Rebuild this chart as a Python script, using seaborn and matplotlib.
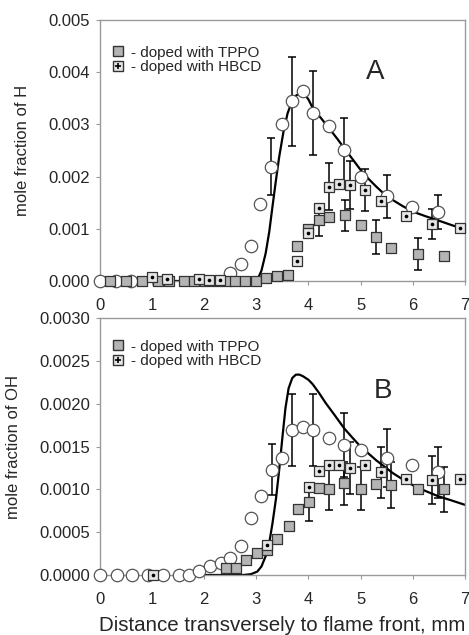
import numpy as np
import pandas as pd
import matplotlib
matplotlib.use("Agg")
import matplotlib.pyplot as plt
import seaborn as sns
from matplotlib.lines import Line2D
from matplotlib.legend_handler import HandlerTuple

# ---------------- panel A: H ----------------
h_und_x = [0.0, 0.3, 0.6, 2.49, 2.70, 2.89, 3.08, 3.29, 3.49, 3.69, 3.90, 4.09,
           4.40, 4.69, 5.00, 5.50, 5.99, 6.49]
h_und_y = [0.0, 0.0, 0.0, 0.00015, 0.00033, 0.00067, 0.00147, 0.00219, 0.00301,
           0.00344, 0.00364, 0.00322, 0.00297, 0.00250, 0.00199, 0.00162,
           0.00142, 0.00132]
h_und_err_x = [3.29, 3.69, 4.09, 4.69, 5.50, 6.49]
h_und_err_y = [0.00219, 0.00344, 0.00322, 0.00250, 0.00162, 0.00132]
h_und_err = [0.00055, 0.00086, 0.00081, 0.00062, 0.00041, 0.00033]

h_tppo_x = [0.19, 0.51, 0.80, 1.11, 1.32, 1.61, 1.80, 2.02, 2.22, 2.41, 2.60,
            2.79, 3.00, 3.19, 3.40, 3.60, 3.79, 3.99, 4.21, 4.40, 4.70, 5.00,
            5.30, 5.59, 6.10, 6.60]
h_tppo_y = [0.0, 0.0, 0.0, 0.0, 0.0, 0.0, 0.0, 0.0, 0.0, 0.0, 0.0, 0.0, 0.0,
            0.00006, 0.0001, 0.00012, 0.00067, 0.00100, 0.00116, 0.00122,
            0.00126, 0.00107, 0.00084, 0.00064, 0.00052, 0.00048]
h_tppo_err_x = [4.21, 4.70, 5.30, 6.10]
h_tppo_err_y = [0.00116, 0.00126, 0.00084, 0.00052]
h_tppo_err = [0.0003, 0.0003, 0.00032, 0.00031]

h_hbcd_x = [1.00, 1.28, 1.90, 2.10, 2.30, 3.79, 3.99, 4.21, 4.40, 4.59, 4.80,
            5.09, 5.39, 5.88, 6.38, 6.90]
h_hbcd_y = [0.00008, 0.00003, 0.00003, 0.00002, 0.00002, 0.00038, 0.00091,
            0.00139, 0.00181, 0.00186, 0.00183, 0.00174, 0.00153, 0.00125,
            0.00109, 0.00102]
h_hbcd_err_x = [4.40, 4.80, 5.09, 6.38]
h_hbcd_err_y = [0.00181, 0.00183, 0.00174, 0.00109]
h_hbcd_err = [0.00045, 0.00046, 0.0004, 0.00028]

h_model_x = [0.0, 2.95, 3.02, 3.10, 3.18, 3.25, 3.31, 3.38, 3.44, 3.52, 3.60,
             3.68, 3.76, 3.84, 3.90, 4.00, 4.09, 4.25, 4.40, 4.55, 4.69, 4.85,
             5.00, 5.15, 5.30, 5.45, 5.62, 5.80, 6.00, 6.25, 6.49, 6.75, 7.0]
h_model_y = [0.0, 0.0, 0.00002, 0.00020, 0.00053, 0.00095, 0.00142, 0.00195,
             0.00238, 0.00285, 0.00321, 0.00343, 0.00355, 0.00360, 0.00361,
             0.00348, 0.00330, 0.00311, 0.00292, 0.00273, 0.00254, 0.00233,
             0.00213, 0.00196, 0.00181, 0.00167, 0.00155, 0.00144, 0.00133,
             0.00124, 0.00116, 0.00107, 0.00099]

# ---------------- panel B: OH ----------------
oh_und_x = [0.0, 0.32, 0.62, 0.93, 1.22, 1.52, 1.71, 1.91, 2.12, 2.32, 2.50,
            2.70, 2.89, 3.10, 3.31, 3.50, 3.69, 3.90, 4.09, 4.40, 4.69, 5.00,
            5.50, 5.99, 6.49]
oh_und_y = [0.0, 0.0, 0.0, 0.0, 0.0, 0.0, 0.0, 0.00005, 0.0001, 0.00014,
            0.0002, 0.00034, 0.00066, 0.00092, 0.00123, 0.00137, 0.00169,
            0.00173, 0.00169, 0.00160, 0.00152, 0.00146, 0.00137, 0.00129,
            0.00120]
oh_und_err_x = [3.31, 3.69, 4.09, 4.69, 5.50, 6.49]
oh_und_err_y = [0.00123, 0.00169, 0.00169, 0.00152, 0.00137, 0.00120]
oh_und_err = [0.0003, 0.00042, 0.00042, 0.00037, 0.00034, 0.0003]

oh_tppo_x = [2.41, 2.61, 2.81, 3.02, 3.21, 3.40, 3.62, 3.81, 4.01, 4.21, 4.40,
             4.69, 5.00, 5.30, 5.59, 6.10, 6.60]
oh_tppo_y = [0.00008, 0.00008, 0.00017, 0.00026, 0.00029, 0.00042, 0.00057,
             0.00077, 0.00085, 0.00102, 0.00101, 0.00107, 0.00101, 0.00106,
             0.00105, 0.00101, 0.00100]
oh_tppo_err_x = [4.01, 4.40, 4.69, 5.00, 5.59, 6.60]
oh_tppo_err_y = [0.00085, 0.00101, 0.00107, 0.00101, 0.00105, 0.00100]
oh_tppo_err = [0.00022, 0.00025, 0.00025, 0.00025, 0.00027, 0.00026]

oh_hbcd_x = [1.01, 3.21, 4.01, 4.21, 4.40, 4.59, 4.80, 5.09, 5.39, 5.88, 6.38,
             6.90]
oh_hbcd_y = [0.0, 0.00035, 0.00103, 0.00122, 0.00129, 0.00129, 0.00125,
             0.00129, 0.00120, 0.00112, 0.00111, 0.00112]
oh_hbcd_err_x = [4.80, 5.39, 6.38]
oh_hbcd_err_y = [0.00125, 0.00120, 0.00111]
oh_hbcd_err = [0.0003, 0.0003, 0.00028]

oh_model_x = [2.0, 2.75, 2.90, 3.02, 3.10, 3.18, 3.25, 3.31, 3.38, 3.44, 3.50,
              3.56, 3.62, 3.69, 3.76, 3.83, 3.90, 4.00, 4.08, 4.20, 4.33, 4.50,
              4.69, 4.85, 5.00, 5.15, 5.30, 5.45, 5.62, 5.80, 6.00, 6.25, 6.49,
              6.75, 7.0]
oh_model_y = [0.0, 0.0, 0.00001, 0.00004, 0.00010, 0.00022, 0.00038, 0.0006,
              0.00090, 0.00123, 0.00160, 0.00195, 0.00218, 0.00230, 0.00234,
              0.00234, 0.00232, 0.00228, 0.00223, 0.00213, 0.00201, 0.00187,
              0.00171, 0.00160, 0.00150, 0.00142, 0.00134, 0.00127, 0.00119,
              0.00112, 0.00105, 0.00098, 0.00092, 0.00087, 0.00082]

x_ticks = [0, 1, 2, 3, 4, 5, 6, 7]
h_ticks = [0.0, 0.001, 0.002, 0.003, 0.004, 0.005]
oh_ticks = [0.0, 0.0005, 0.0010, 0.0015, 0.0020, 0.0025, 0.0030]

sns.set_style("white")
plt.rcParams['font.family'] = ['Liberation Sans', 'DejaVu Sans']

GRAY = '#b4b4b4'
SPINE = '#9a9a9a'


def draw_panel(ax, und, tppo, hbcd, model, errs, ylim, yticks, yfmt, ylabel,
               letter, letter_pos, leg_y):
    # model curve
    sns.lineplot(x=model[0], y=model[1], ax=ax, color='black', lw=1.6,
                 sort=False, estimator=None, zorder=2)
    # error bars
    for (ex, ey, ee) in errs:
        ax.errorbar(ex, ey, yerr=ee, fmt='none', ecolor='black', elinewidth=1.1,
                    capsize=3, capthick=1.1, zorder=3)
    # undoped: open circles
    sns.scatterplot(x=und[0], y=und[1], ax=ax, marker='o', s=80,
                    facecolor='white', edgecolor='#555555', linewidth=0.9,
                    zorder=4, clip_on=False)
    # TPPO: gray squares
    sns.scatterplot(x=tppo[0], y=tppo[1], ax=ax, marker='s', s=55,
                    facecolor=GRAY, edgecolor='#333333', linewidth=0.9,
                    zorder=5, clip_on=False)
    # HBCD: light squares with dot
    sns.scatterplot(x=hbcd[0], y=hbcd[1], ax=ax, marker='s', s=55,
                    facecolor='#e6e6e6', edgecolor='#333333', linewidth=0.9,
                    zorder=6, clip_on=False)
    sns.scatterplot(x=hbcd[0], y=hbcd[1], ax=ax, marker='o', s=7,
                    color='black', linewidth=0, zorder=7, clip_on=False)

    ax.set_xlim(0, 7)
    ax.set_ylim(*ylim)
    ax.set_xticks(x_ticks)
    ax.set_yticks(yticks)
    ax.set_yticklabels([yfmt.format(v) for v in yticks])
    ax.set_xticklabels([str(t) for t in x_ticks])
    ax.set_ylabel(ylabel, fontsize=12, labelpad=13)
    ax.tick_params(axis='both', labelsize=12, length=3, direction='out',
                   color=SPINE, left=True, bottom=True)
    ax.tick_params(axis='x', pad=9)
    ax.tick_params(axis='y', pad=4)
    for sp in ax.spines.values():
        sp.set_color(SPINE)
        sp.set_linewidth(1.0)

    h1 = Line2D([], [], marker='s', ls='none', ms=7, mfc=GRAY, mec='#333333')
    h2a = Line2D([], [], marker='s', ls='none', ms=7, mfc='#e6e6e6', mec='#333333')
    h2b = Line2D([], [], marker='+', ls='none', ms=5, mec='black', mew=1.2)
    ax.legend([h1, (h2a, h2b)], ['- doped with TPPO', '- doped with HBCD'],
              handler_map={tuple: HandlerTuple(ndivide=1, pad=0)},
              loc='upper left', bbox_to_anchor=(0.015, leg_y), frameon=False,
              fontsize=11, handlelength=0.9, handletextpad=0.35, labelspacing=0.05,
              borderaxespad=0.0)
    ax.text(letter_pos[0], letter_pos[1], letter, transform=ax.transAxes,
            fontsize=20, ha='center', va='center')


fig = plt.figure(figsize=(4.69, 6.35), dpi=100)
ax1 = fig.add_axes([0.213, 0.5575, 0.778, 0.411])
ax2 = fig.add_axes([0.213, 0.0945, 0.778, 0.4045])

draw_panel(ax1, (h_und_x, h_und_y), (h_tppo_x, h_tppo_y), (h_hbcd_x, h_hbcd_y),
           (h_model_x, h_model_y),
           [(h_und_err_x, h_und_err_y, h_und_err),
            (h_tppo_err_x, h_tppo_err_y, h_tppo_err),
            (h_hbcd_err_x, h_hbcd_err_y, h_hbcd_err)],
           (0, 0.005), h_ticks, '{:.3f}', 'mole fraction of H', 'A',
           (0.755, 0.80), 0.925)
draw_panel(ax2, (oh_und_x, oh_und_y), (oh_tppo_x, oh_tppo_y), (oh_hbcd_x, oh_hbcd_y),
           (oh_model_x, oh_model_y),
           [(oh_und_err_x, oh_und_err_y, oh_und_err),
            (oh_tppo_err_x, oh_tppo_err_y, oh_tppo_err),
            (oh_hbcd_err_x, oh_hbcd_err_y, oh_hbcd_err)],
           (0, 0.003), oh_ticks, '{:.4f}', 'mole fraction of OH', 'B',
           (0.775, 0.715), 0.94)
ax2.set_xlabel('Distance transversely to flame front, mm', fontsize=14.8, labelpad=7)

fig.savefig('out.png', dpi=100)
